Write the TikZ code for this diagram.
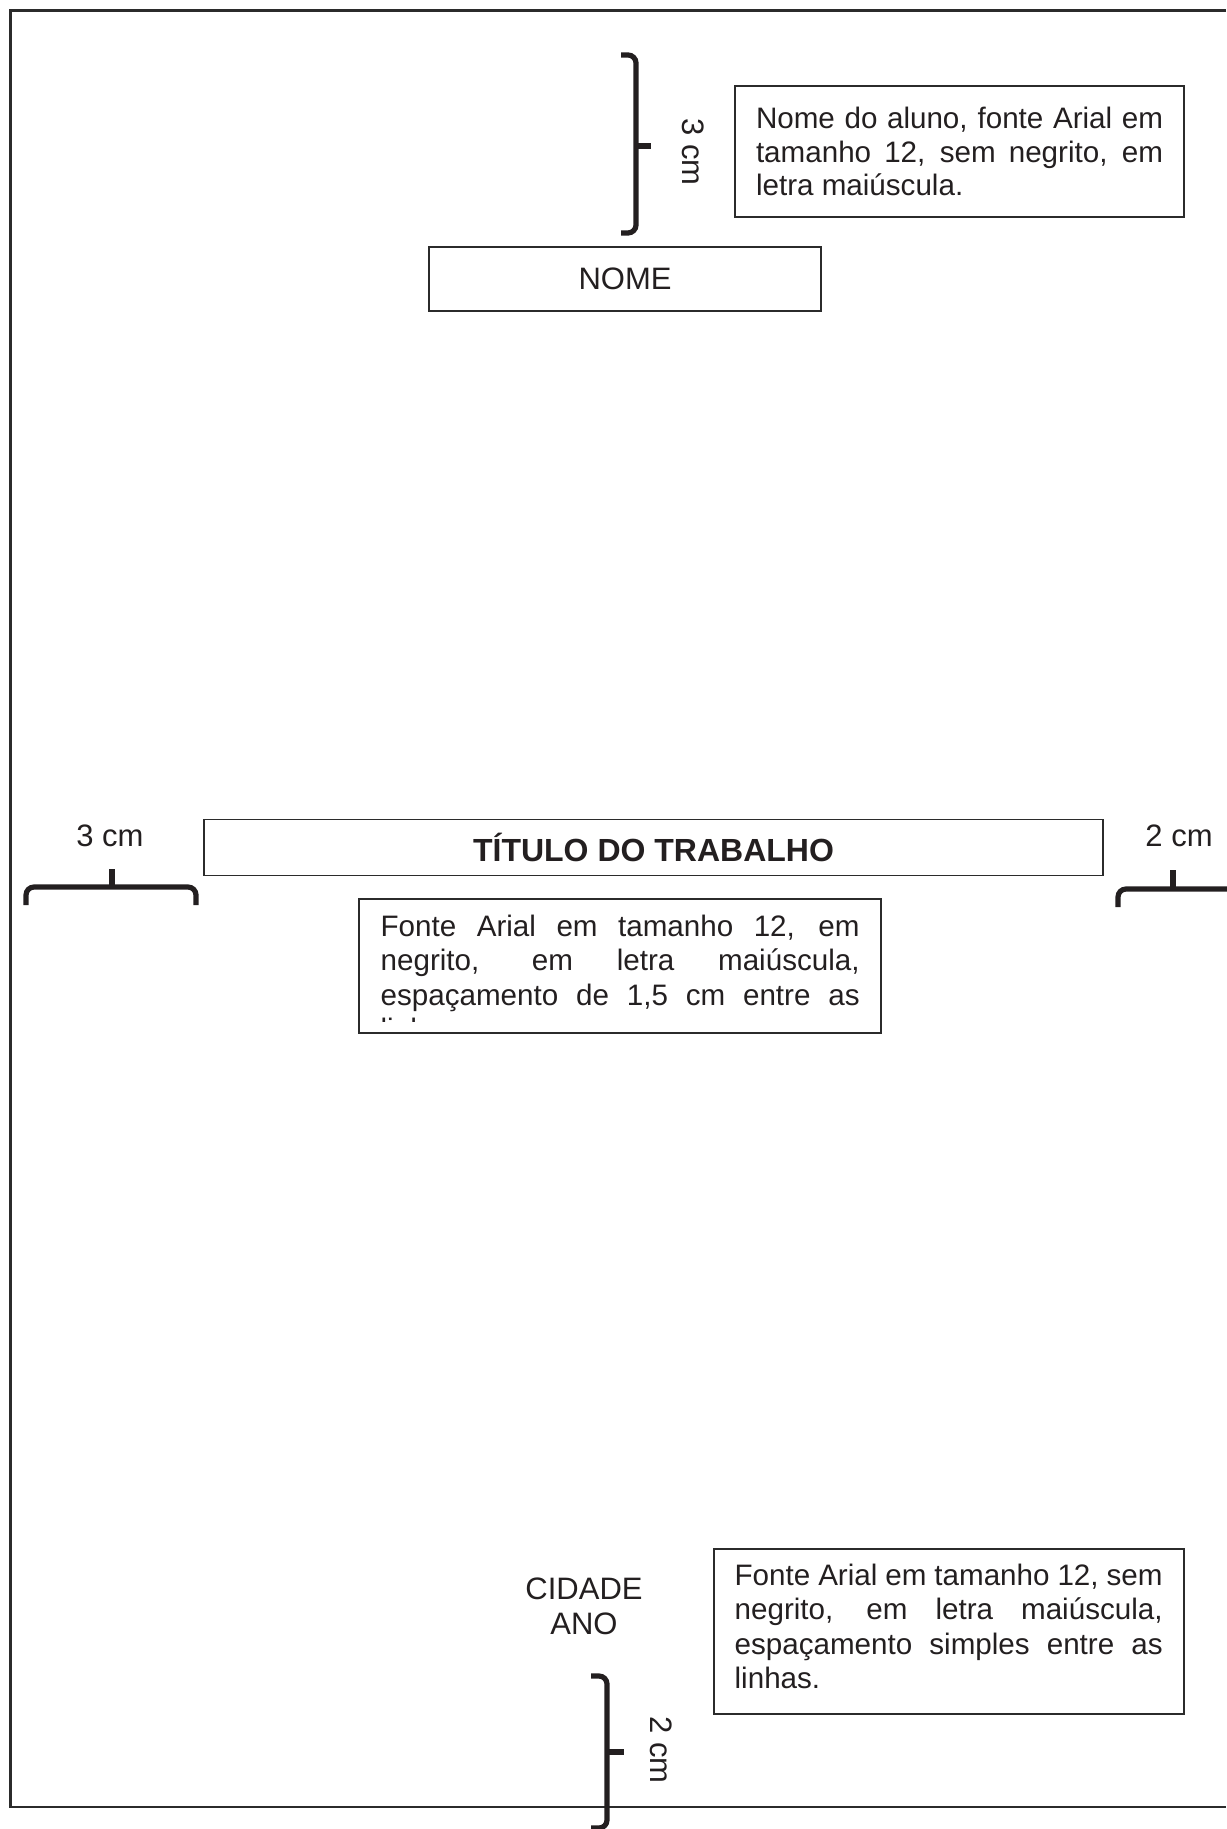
\documentclass[tikz,border=0pt]{standalone}
\usepackage{fontspec}
\setmainfont{Liberation Sans}
\definecolor{linecol}{HTML}{2B2B2B}
\definecolor{txtcol}{HTML}{231F20}
\newcommand\boxfont{\fontsize{14.8}{16.9}\selectfont}
\newcommand\boxfontb{\fontsize{14.8}{17.3}\selectfont}
\newcommand\lblfont{\fontsize{15.5}{17.5}\selectfont}
\begin{document}
\begin{tikzpicture}[x=0.5pt,y=-0.5pt,
  framestyle/.style={draw=linecol,line width=1.1pt},
  txtbox/.style={draw=linecol,line width=0.75pt,align=justify,font=\boxfont,text=txtcol,inner xsep=10.5pt,inner ysep=0pt},
  emptybox/.style={draw=linecol,line width=0.75pt,inner sep=0pt},
  boxtext/.style={anchor=north west,align=justify,font=\boxfontb,text=txtcol,inner sep=0pt},
  plainbox/.style={draw=linecol,line width=0.75pt,font=\lblfont,text=txtcol,inner sep=0pt},
  lbl/.style={font=\lblfont,text=txtcol,inner sep=0pt},
  bracestyle/.style={draw=txtcol,line width=2.6pt,rounded corners=4pt}]
\useasboundingbox (0,0) rectangle (1226,1829);
\tolerance=9999 \hyphenpenalty=10000 \emergencystretch=20pt
% page frame (top, left, bottom)
\draw[framestyle] (1226,10.5) -- (10.5,10.5) -- (10.5,1807) -- (1226,1807);
% top brace with label
\draw[bracestyle] (621,55) -- (636,55) -- (636,233) -- (621,233);
\draw[bracestyle,rounded corners=0pt] (636,146) -- (651,146);
\node[lbl,rotate=-90] (tcm) at (693,152) {3 cm};
% box 1
\node[txtbox,text width=203.5pt,minimum width=224.5pt,minimum height=65.5pt] (b1) at (959.5,151.5)
 {Nome do aluno, fonte Arial em\linebreak tamanho 12, sem negrito, em\linebreak letra maiúscula.};
% NOME
\node[plainbox,minimum width=196pt,minimum height=32pt] (nome) at (625,279) {NOME};
% title
\node[plainbox,minimum width=449.5pt,minimum height=28pt,font=\fontsize{16}{18}\selectfont\bfseries] (tit) at (653.5,847.5) {TÍTULO DO TRABALHO};
% left margin label and brace
\node[lbl] (lcm) at (110,836) {3 cm};
\draw[bracestyle] (26,905) -- (26,887) -- (196,887) -- (196,905);
\draw[bracestyle,rounded corners=0pt] (112,887) -- (112,869);
% right margin label and brace
\node[lbl] (rcm) at (1179,836) {2 cm};
\draw[bracestyle] (1118,907) -- (1118,889) -- (1240,889);
\draw[bracestyle,rounded corners=0pt] (1173,889) -- (1173,870);
% box 2 (text cut by the box)
\node[emptybox,minimum width=261pt,minimum height=67pt] (b2) at (620,966) {};
\begin{scope}
\clip ([shift={(1,1)}]b2.north west) rectangle ([shift={(-1,-12)}]b2.south east);
\node[boxtext,text width=239.5pt] (b2t) at ([shift={(22,16)}]b2.north west)
 {Fonte Arial em tamanho 12, em\linebreak negrito, em letra maiúscula,\linebreak espaçamento de 1,5 cm entre as\linebreak linhas.};
\end{scope}
% city and year
\node[lbl,align=center] (cid) at (584,1606.5) {CIDADE\\ANO};
% box 3
\node[emptybox,minimum width=235pt,minimum height=82.5pt] (b3) at (949,1631.5) {};
\node[boxtext,text width=214pt] (b3t) at ([shift={(21,15)}]b3.north west)
 {Fonte Arial em tamanho 12, sem\linebreak negrito, em letra maiúscula,\linebreak espaçamento simples entre as\linebreak linhas.};
% bottom brace with label
\draw[bracestyle] (591,1676) -- (607,1676) -- (607,1828) -- (591,1828);
\draw[bracestyle,rounded corners=0pt] (607,1752) -- (624,1752);
\node[lbl,rotate=-90] (bcm) at (661,1750) {2 cm};
\end{tikzpicture}
\end{document}
